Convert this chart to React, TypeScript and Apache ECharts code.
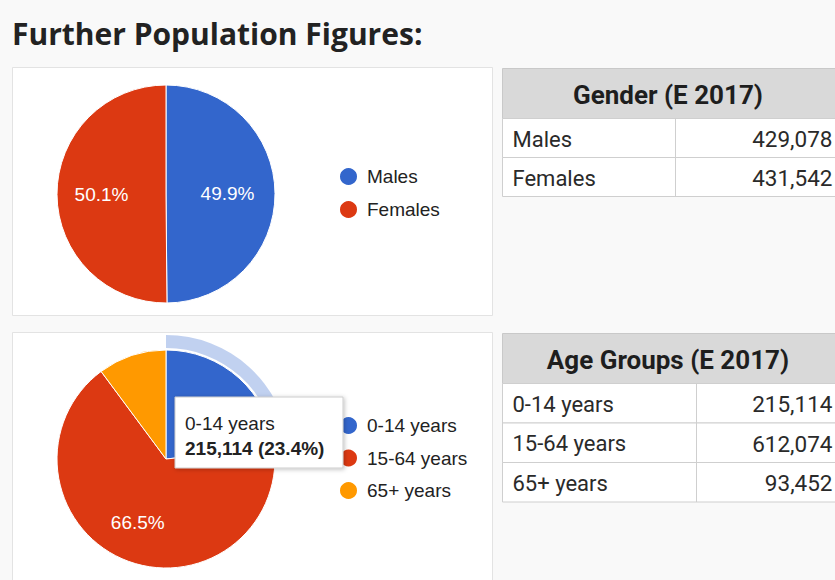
import React, { useEffect, useRef } from "react";
import * as echarts from "echarts";

const pageTitle = "Further Population Figures:";

const genderTitle = "Gender (E 2017)";
const genderCategories = ["Males", "Females"];
const genderValues = [429078, 431542];

const ageTitle = "Age Groups (E 2017)";
const ageCategories = ["0-14 years", "15-64 years", "65+ years"];
const ageValues = [215114, 612074, 93452];

const sliceColors = ["#3366cc", "#dc3912", "#ff9900"];
const highlightedAge = 0;

const genderLabelShift = [
  [4, 0],
  [-7, 0],
];
const ageLabelShift = [
  [0, 0],
  [-5, 11],
  [0, 0],
];
const ageLabelVisible = [false, true, false];

const fmt = (v: number) => v.toLocaleString("en-US");
const pct = (v: number, all: number[]) =>
  ((v / all.reduce((a, b) => a + b, 0)) * 100).toFixed(1) + "%";

const SANS = "Arial, 'Liberation Sans', sans-serif";
const TABLE_FONT = "Roboto, 'Liberation Sans', sans-serif";

function tableGraphics(
  x: number,
  y: number,
  width: number,
  colX: number,
  headerH: number,
  rowH: number,
  title: string,
  labels: string[],
  values: number[]
) {
  const els: any[] = [];
  els.push({
    type: "rect",
    shape: { x, y, width, height: headerH },
    style: { fill: "#d9d9d9", stroke: "#c9c9c9", lineWidth: 1 },
  });
  els.push({
    type: "text",
    style: {
      x: x + width / 2 - 1,
      y: y + headerH / 2 + 1,
      text: title,
      fill: "#1e1e1e",
      font: `bold 26px ${TABLE_FONT}`,
      align: "center",
      verticalAlign: "middle",
    },
  });
  labels.forEach((lab, i) => {
    const ry = y + headerH + i * rowH;
    els.push({
      type: "rect",
      shape: { x, y: ry, width, height: rowH },
      style: { fill: "#ffffff", stroke: "#cfcfcf", lineWidth: 1 },
    });
    els.push({
      type: "line",
      shape: { x1: colX, y1: ry, x2: colX, y2: ry + rowH },
      style: { stroke: "#cfcfcf", lineWidth: 1 },
    });
    els.push({
      type: "text",
      style: {
        x: x + 10,
        y: ry + rowH / 2 + 1,
        text: lab,
        fill: "#2a2a2a",
        font: `22px ${TABLE_FONT}`,
        align: "left",
        verticalAlign: "middle",
      },
    });
    els.push({
      type: "text",
      style: {
        x: x + width - 3,
        y: ry + rowH / 2 + 1,
        text: fmt(values[i]),
        fill: "#2a2a2a",
        font: `22.5px ${TABLE_FONT}`,
        align: "right",
        verticalAlign: "middle",
      },
    });
  });
  return els;
}

export default function App() {
  const ref = useRef<HTMLDivElement>(null);

  useEffect(() => {
    if (!ref.current) return;
    const chart = echarts.init(ref.current, undefined, { renderer: "svg" });

    const legendCommon = {
      orient: "vertical",
      left: 338,
      padding: 0,
      icon: "circle",
      itemWidth: 19,
      itemHeight: 19,
      selectedMode: false,
      textStyle: {
        fontSize: 19,
        fontFamily: SANS,
        color: "#222",
        padding: [0, 0, 0, 4],
      },
    };

    const tipZ = 100;

    const option: any = {
      animation: false,
      backgroundColor: "#f9f9f9",
      tooltip: { show: false },
      legend: [
        { ...legendCommon, data: genderCategories, top: 166, itemGap: 12 },
        { ...legendCommon, data: ageCategories, top: 415, itemGap: 11.5 },
      ],
      graphic: [
        {
          type: "rect",
          z: -10,
          shape: { x: 12.5, y: 67.5, width: 480, height: 248 },
          style: { fill: "#ffffff", stroke: "#e3e3e3", lineWidth: 1 },
        },
        {
          type: "rect",
          z: -10,
          shape: { x: 12.5, y: 332.5, width: 480, height: 260 },
          style: { fill: "#ffffff", stroke: "#e3e3e3", lineWidth: 1 },
        },
        {
          type: "text",
          style: {
            x: 12,
            y: 33,
            text: pageTitle,
            fill: "#222",
            font: "bold 30px 'Open Sans', sans-serif",
            align: "left",
            verticalAlign: "middle",
          },
        },
        ...tableGraphics(502.5, 68.5, 333, 675.5, 50, 39, genderTitle, genderCategories, genderValues),
        ...tableGraphics(502.5, 333.5, 333, 696.5, 50, 39.5, ageTitle, ageCategories, ageValues),
        {
          type: "rect",
          z: tipZ,
          shape: { x: 175, y: 397, width: 168, height: 71 },
          style: {
            fill: "#ffffff",
            stroke: "#cccccc",
            lineWidth: 1,
            shadowBlur: 4,
            shadowOffsetX: 1,
            shadowOffsetY: 1,
            shadowColor: "rgba(0,0,0,0.25)",
          },
        },
        {
          type: "text",
          z: tipZ + 1,
          style: {
            x: 185,
            y: 423,
            text: ageCategories[highlightedAge],
            fill: "#222",
            font: `19px ${SANS}`,
            verticalAlign: "middle",
          },
        },
        {
          type: "text",
          z: tipZ + 1,
          style: {
            x: 185,
            y: 448,
            text: `${fmt(ageValues[highlightedAge])} (${pct(ageValues[highlightedAge], ageValues)})`,
            fill: "#222",
            font: `bold 19px ${SANS}`,
            verticalAlign: "middle",
          },
        },
      ],
      series: [
        {
          type: "pie",
          name: "Gender",
          center: [166, 194],
          radius: [0, 109],
          startAngle: 90,
          clockwise: true,
          silent: true,
          avoidLabelOverlap: false,
          legendHoverLink: false,
          itemStyle: { borderColor: "#ffffff", borderWidth: 1 },
          label: {
            show: true,
            position: "inside",
            color: "#ffffff",
            fontSize: 19,
            fontFamily: SANS,
            formatter: (p: any) => pct(p.value, genderValues),
          },
          labelLine: { show: false },
          labelLayout: (p: any) => ({
            dx: genderLabelShift[p.dataIndex][0],
            dy: genderLabelShift[p.dataIndex][1],
          }),
          emphasis: { disabled: true },
          data: genderCategories.map((name, i) => ({
            name,
            value: genderValues[i],
            itemStyle: { color: sliceColors[i] },
          })),
        },
        {
          type: "pie",
          name: "Age Groups",
          center: [166, 459],
          radius: [0, 109],
          startAngle: 90,
          clockwise: true,
          silent: true,
          avoidLabelOverlap: false,
          legendHoverLink: false,
          itemStyle: { borderColor: "#ffffff", borderWidth: 1 },
          label: {
            show: true,
            position: "inside",
            color: "#ffffff",
            fontSize: 19,
            fontFamily: SANS,
            formatter: (p: any) => pct(p.value, ageValues),
          },
          labelLine: { show: false },
          labelLayout: (p: any) => ({
            dx: ageLabelShift[p.dataIndex][0],
            dy: ageLabelShift[p.dataIndex][1],
          }),
          emphasis: { disabled: true },
          data: ageCategories.map((name, i) => ({
            name,
            value: ageValues[i],
            itemStyle: { color: sliceColors[i] },
            label: { show: ageLabelVisible[i] },
          })),
        },
        {
          type: "pie",
          name: "Age hover ring",
          center: [166, 459],
          radius: [111, 124],
          startAngle: 90,
          clockwise: true,
          silent: true,
          legendHoverLink: false,
          label: { show: false },
          labelLine: { show: false },
          emphasis: { disabled: true },
          data: ageCategories.map((name, i) => ({
            name: "hover " + name,
            value: ageValues[i],
            itemStyle: {
              color: i === highlightedAge ? "rgba(51,102,204,0.3)" : "rgba(0,0,0,0)",
            },
          })),
        },
      ],
    };

    chart.setOption(option);
    return () => chart.dispose();
  }, []);

  return (
    <div
      ref={ref}
      style={{ position: "absolute", left: 0, top: 0, width: 835, height: 580 }}
    />
  );
}
